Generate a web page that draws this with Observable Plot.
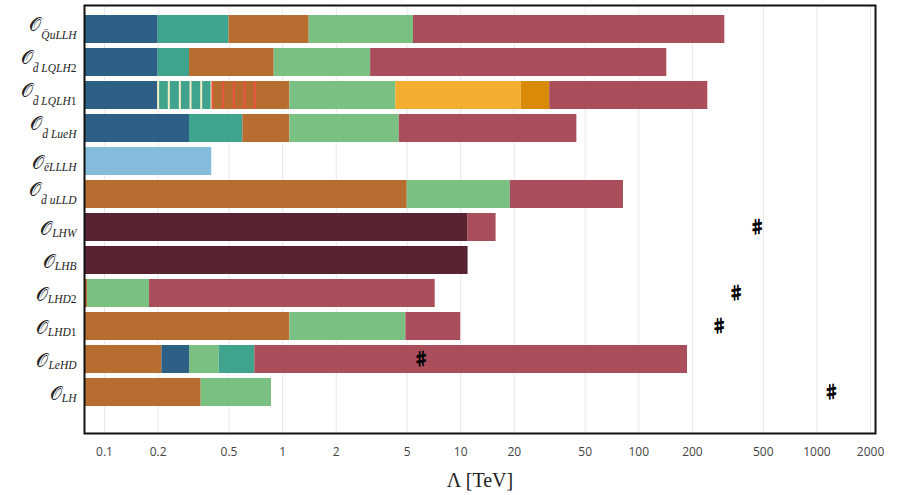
<!DOCTYPE html>
<html><head><meta charset="utf-8">
<script src="https://cdn.jsdelivr.net/npm/d3@7"></script>
<script src="https://cdn.jsdelivr.net/npm/@observablehq/plot@0.6"></script>
<style>
body{margin:0;background:#fff;}
#chart svg{display:block;}
</style></head><body><div id="chart"></div>
<script>
// Operators (rows, top to bottom)
const operators = ["QuLLH","dLQLH2","dLQLH1","dLueH","eLLLH","dULLD","LHW","LHB","LHD2","LHD1","LeHD","LH"];
// Label pieces: barred letter (if any) and rest of subscript
const labelBar  = ["Q","d","d","d","e","d","","","","","",""];
const labelRest = ["uLLH"," LQLH2"," LQLH1"," LueH","LLLH"," uLLD","LHW","LHB","LHD2","LHD1","LeHD","LH"];

// Upper ends of consecutive bar segments per row [TeV]
const limits = [
  [0.2, 0.5, 1.41, 5.43, 304],
  [0.2, 0.30, 0.897, 3.12, 143.6],
  [0.2, 0.4, 1.098, 4.32, 21.9, 31.6, 244],
  [0.30, 0.598, 1.098, 4.52, 44.9],
  [0.4],
  [5.01, 19.0, 82.0],
  [11.0, 15.8],
  [11.0],
  [0.0803, 0.179, 7.19],
  [1.098, 4.92, 10.0],
  [0.210, 0.300, 0.441, 0.698, 187.7],
  [0.349, 0.866]
];
// Segment categories per row
const kinds = [
  ["B","T","O","G","R"],
  ["B","T","O","G","R"],
  ["B","T","O","G","Y","D","R"],
  ["B","T","O","G","R"],
  ["L"],
  ["O","G","R"],
  ["M","R"],
  ["M"],
  ["O","G","R"],
  ["O","G","R"],
  ["O","B","G","T","R"],
  ["O","G"]
];
const kindNames  = ["B","T","O","G","R","L","M","Y","D"];
const kindColors = ["#2e6086","#3fa38d","#b86d30","#7bc083","#a94e5a","#85bbdb","#582431","#f4ae2f","#d98a06"];

// Hatch lines on the dLQLH1 row
const hatchRow = "dLQLH1";
const hatchCream = [0.2, 0.2296, 0.2648, 0.304, 0.349, 0.399];
const hatchRed   = [0.404, 0.464, 0.532, 0.611, 0.698];

// Sharp markers
const sharpRows   = ["LHW","LHD2","LHD1","LeHD","LH"];
const sharpValues = [462, 352, 283, 6.0, 1208];

// Axis ticks
const xTicks = [0.1,0.2,0.5,1,2,5,10,20,50,100,200,500,1000,2000];
const xDomain = [0.0772, 2133];
const axisTitle = "Λ [TeV]";

const segs = [];
operators.forEach((op, i) => {
  let prev = xDomain[0];
  limits[i].forEach((v, j) => {
    segs.push({op, x1: prev, x2: v, kind: kinds[i][j]});
    prev = v;
  });
});
const sharps = sharpRows.map((r, i) => ({op: r, x: sharpValues[i]}));

const chart = Plot.plot({
  width: 901, height: 495,
  marginLeft: 84, marginRight: 26, marginTop: 5, marginBottom: 62,
  style: {fontFamily: "'Open Sans', sans-serif", background: "#fff", overflow: "visible"},
  x: {type: "log", domain: xDomain, label: null},
  y: {domain: operators, paddingInner: 0.165, paddingOuter: 0.1, insetTop: 1, insetBottom: 18, label: null},
  color: {domain: kindNames, range: kindColors},
  marks: [
    Plot.gridX(xTicks, {stroke: "#e8e8e8", strokeOpacity: 1, strokeWidth: 1}),
    Plot.barX(segs, {y: "op", x1: "x1", x2: "x2", fill: "kind"}),
    Plot.tickX(hatchCream, {x: d => d, y: () => hatchRow, stroke: "#f3eec6", strokeWidth: 2}),
    Plot.tickX(hatchRed, {x: d => d, y: () => hatchRow, stroke: "#ea553f", strokeWidth: 2}),
    Plot.text(sharps, {x: "x", y: "op", text: () => "♯", fontSize: 17, fontWeight: "bold", fill: "#000", stroke: "#000", strokeWidth: 0.8, fontFamily: "'Noto Sans CJK JP', 'DejaVu Sans'"}),
    Plot.axisX(xTicks, {ticks: Infinity, tickSize: 0, tickPadding: 14, tickFormat: d => String(d), fontSize: 12, fill: "#444", label: null}),
    Plot.axisY({tickSize: 0, tickPadding: 8, label: null, fontSize: 12}),
    Plot.text([axisTitle], {frameAnchor: "bottom", dy: 53, fontSize: 20, fontFamily: "'Liberation Serif', serif", fill: "#222"}),
    Plot.frame({stroke: "#111", strokeWidth: 2})
  ]
});

// Rich math-style y labels
const ns = "http://www.w3.org/2000/svg";
chart.querySelectorAll('[aria-label="y-axis tick label"] text').forEach(t => {
  const name = t.textContent;
  const i = operators.indexOf(name);
  if (i < 0) return;
  t.textContent = "";
  t.setAttribute("y", "0");
  t.removeAttribute("dy");
  const tall = labelBar[i] === "Q" || labelBar[i] === "d";
  const oBase = tall ? 1.5 : 7;
  const subBase = 9.5;
  const o = document.createElementNS(ns, "tspan");
  o.textContent = "𝒪";
  o.setAttribute("font-size", "19");
  o.setAttribute("font-family", "'DejaVu Serif', 'Liberation Serif', serif");
  o.setAttribute("dy", oBase);
  t.appendChild(o);
  const sub = document.createElementNS(ns, "tspan");
  sub.setAttribute("font-size", "11.5");
  sub.setAttribute("font-family", "'Liberation Serif', serif");
  sub.setAttribute("font-style", "italic");
  sub.setAttribute("dy", subBase - oBase);
  sub.setAttribute("fill", "#222");
  if (labelBar[i]) {
    const b = document.createElementNS(ns, "tspan");
    b.textContent = labelBar[i] + "\u0304";
    sub.appendChild(b);
  }
  // digits upright
  labelRest[i].split(/(\d)/).filter(s => s.length).forEach(part => {
    const p = document.createElementNS(ns, "tspan");
    p.textContent = part;
    if (/\d/.test(part)) p.setAttribute("font-style", "normal");
    sub.appendChild(p);
  });
  t.appendChild(sub);
  t.setAttribute("fill", "#222");
});

document.getElementById("chart").appendChild(chart);
</script>
</body></html>
